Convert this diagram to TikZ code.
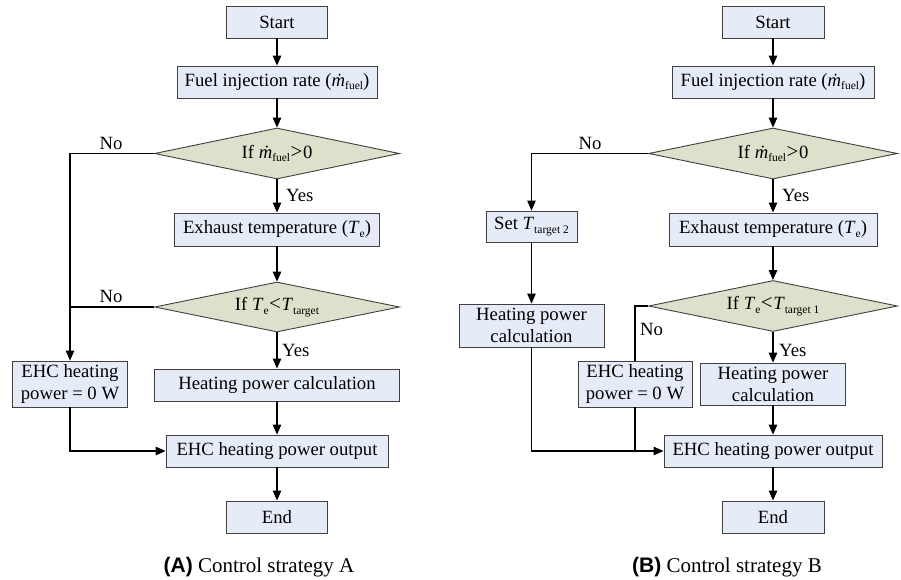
\documentclass[tikz,border=0pt]{standalone}
\usepackage{fontspec}
\setmainfont{Liberation Serif}
\newfontfamily\capsans{Liberation Sans}
\usetikzlibrary{shapes.geometric,arrows.meta}
\definecolor{boxfill}{HTML}{E6ECF7}
\definecolor{dfill}{HTML}{DDE0CB}
\definecolor{edge}{HTML}{404040}
\newcommand{\lowsub}[1]{\raisebox{-0.4ex}{\fontsize{11.5}{12}\selectfont #1}}
\newcommand{\mdotfuel}{\textit{ṁ}\lowsub{fuel}}
\newcommand{\bigrel}[1]{\kern0.5pt{\fontsize{21}{22}\selectfont #1}\kern0.5pt}
\begin{document}
\begin{tikzpicture}[x=1pt,y=-1pt,
  every node/.style={font=\fontsize{18.7}{22}\selectfont},
  pbox/.style={draw=edge, fill=boxfill, line width=0.9pt, rectangle, inner sep=0pt, align=center},
  dbox/.style={draw=edge, fill=dfill, line width=0.9pt, diamond, aspect=4.8, inner sep=0pt},
  conn/.style={line width=1.1pt, black},
  arr/.style={conn, -{Triangle[length=10pt,width=8.5pt]}},
  lab/.style={inner sep=0pt},
  captext/.style={inner sep=0pt, font=\fontsize{21}{24}\selectfont}
]
\useasboundingbox (0,0) rectangle (901,580);
% ---------------- Panel A ----------------
\node[pbox, minimum width=101pt, minimum height=32pt] (aS) at (277,22) {Start};
\node[pbox, minimum width=200pt, minimum height=32pt] (aF) at (277,82) {Fuel injection rate (\mdotfuel)};
\node[dbox, minimum width=245pt, minimum height=51pt] (aD1) at (277,153.5) {If \mdotfuel\bigrel{>}0};
\node[pbox, minimum width=205pt, minimum height=33pt] (aE) at (277,229.5) {Exhaust temperature (\textit{T}\lowsub{e})};
\node[dbox, minimum width=245pt, minimum height=50pt] (aD2) at (277,307) {If \textit{T}\lowsub{e}\bigrel{<}\textit{T}\lowsub{target}};
\node[pbox, minimum width=115pt, minimum height=46pt] (aZ) at (70,384) {EHC heating\\power = 0 W};
\node[pbox, minimum width=245pt, minimum height=32pt] (aH) at (277,385) {Heating power calculation};
\node[pbox, minimum width=222pt, minimum height=32pt] (aO) at (277,451) {EHC heating power output};
\node[pbox, minimum width=101pt, minimum height=32pt] (aN) at (277,517) {End};

\draw[arr] (aS) -- (aF);
\draw[arr] (aF) -- (aD1);
\draw[arr] (aD1) -- (aE);
\draw[arr] (aD1.west) -| (aZ.north);
\draw[arr] (aE) -- (aD2);
\draw[conn] (aD2.west) -- (aZ.north |- aD2.west);
\draw[arr] (aD2) -- (aH);
\draw[arr] (aH) -- (aO);
\draw[arr] (aZ.south) |- (aO.west);
\draw[arr] (aO) -- (aN);

\node[lab] (aNo1) at (111,143) {No};
\node[lab] (aNo2) at (111,296) {No};
\node[lab, anchor=west] (aY1) at (286,195) {Yes};
\node[lab, anchor=west] (aY2) at (282,350) {Yes};
\node[captext] (capA) at (259,567) {{\capsans\bfseries (A)} Control strategy A};

% ---------------- Panel B ----------------
\node[pbox, minimum width=102pt, minimum height=32pt] (bS) at (773,22) {Start};
\node[pbox, minimum width=202pt, minimum height=32pt] (bF) at (773,82) {Fuel injection rate (\mdotfuel)};
\node[dbox, minimum width=249pt, minimum height=51pt] (bD1) at (773,153.5) {If \mdotfuel\bigrel{>}0};
\node[pbox, minimum width=91pt, minimum height=31pt] (bT) at (531.5,226.5) {Set \textit{T}\lowsub{target 2}};
\node[pbox, minimum width=208pt, minimum height=33pt] (bE) at (773,229.5) {Exhaust temperature (\textit{T}\lowsub{e})};
\node[pbox, minimum width=145pt, minimum height=43pt] (bHL) at (531.5,325.5) {Heating power\\calculation};
\node[dbox, minimum width=249pt, minimum height=51pt] (bD2) at (773,306) {If \textit{T}\lowsub{e}\bigrel{<}\textit{T}\lowsub{target 1}};
\node[pbox, minimum width=114pt, minimum height=46pt] (bZ) at (635,384) {EHC heating\\power = 0 W};
\node[pbox, minimum width=145pt, minimum height=42pt] (bHR) at (773,384) {Heating power\\calculation};
\node[pbox, minimum width=218pt, minimum height=32pt] (bO) at (773,451) {EHC heating power output};
\node[pbox, minimum width=102pt, minimum height=32pt] (bN) at (773,517) {End};

\draw[arr] (bS) -- (bF);
\draw[arr] (bF) -- (bD1);
\draw[arr] (bD1) -- (bE);
\draw[arr] (bD1.west) -| (bT.north);
\draw[arr] (bT) -- (bHL);
\draw[arr] (bE) -- (bD2);
\draw[arr] (bD2) -- (bHR);
\draw[conn] (bD2.west) -| (bZ.north);
\draw[arr] (bHR) -- (bO);
\draw[arr] (bHL.south) |- (bO.west);
\draw[conn] (bZ.south) -- (bZ.south |- bO.west);
\draw[arr] (bO) -- (bN);

\node[lab] (bNo1) at (590,143) {No};
\node[lab, anchor=west] (bNo2) at (640,329) {No};
\node[lab, anchor=west] (bY1) at (782,195) {Yes};
\node[lab, anchor=west] (bY2) at (779,350) {Yes};
\node[captext] (capB) at (727,567) {{\capsans\bfseries (B)} Control strategy B};
\end{tikzpicture}
\end{document}
